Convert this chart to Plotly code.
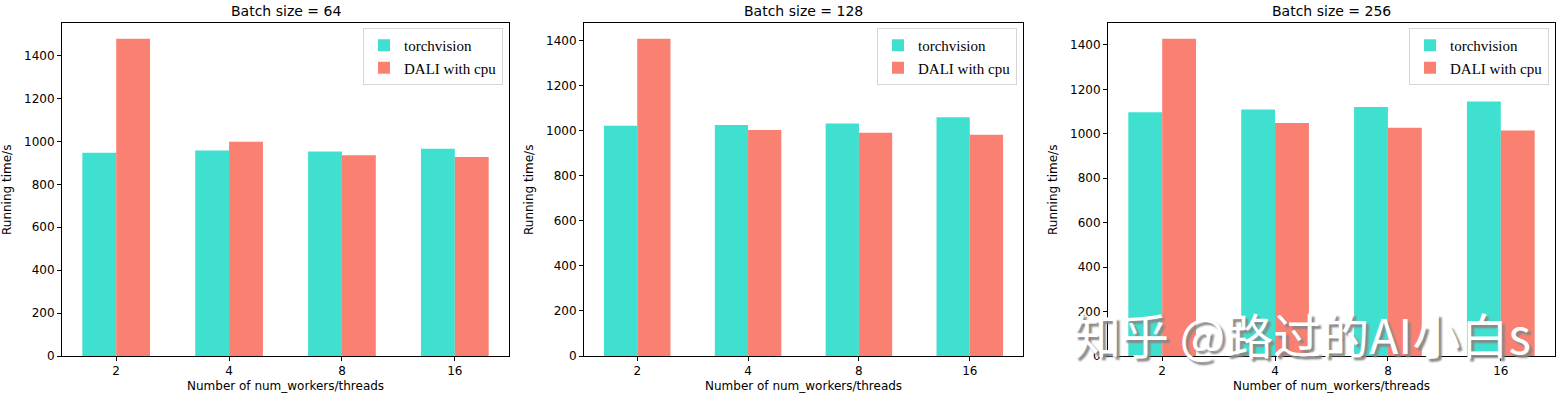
import plotly.graph_objects as go

categories = ["2", "4", "8", "16"]
batch_titles = ["Batch size = 64", "Batch size = 128", "Batch size = 256"]
torchvision = [
    [947, 958, 953, 966],
    [1021, 1025, 1032, 1059],
    [1097, 1109, 1120, 1145],
]
dali_cpu = [
    [1478, 999, 936, 927],
    [1407, 1003, 990, 982],
    [1427, 1048, 1027, 1015],
]
y_ticks = [0, 200, 400, 600, 800, 1000, 1200, 1400]

W, H = 1561, 399
def fx(px):
    return px / W
def fy(py):
    return 1 - py / H

xdom_px = [(62, 509), (584, 1023), (1108, 1555)]
top_px, bot_px = 23, 356
ydom = [fy(bot_px), fy(top_px)]

fig = go.Figure()
layout = dict(
    width=W, height=H, margin=dict(l=0, r=0, t=0, b=0, autoexpand=False),
    paper_bgcolor="white", plot_bgcolor="white",
    barmode="group", bargap=0.4, bargroupgap=0,
    font=dict(family="DejaVu Sans", size=12, color="black"),
    annotations=[],
)

for i in range(3):
    sfx = "" if i == 0 else str(i + 1)
    xa, ya = "x" + sfx, "y" + sfx
    leg = "legend" + sfx
    fig.add_trace(go.Bar(x=categories, y=torchvision[i], name="torchvision",
                         marker=dict(color="#40E0D0", line=dict(width=0)),
                         xaxis=xa, yaxis=ya, legend=leg))
    fig.add_trace(go.Bar(x=categories, y=dali_cpu[i], name="DALI with cpu",
                         marker=dict(color="#FA8072", line=dict(width=0)),
                         xaxis=xa, yaxis=ya, legend=leg))
    x0, x1 = xdom_px[i]
    ymax = max(max(torchvision[i]), max(dali_cpu[i])) * 1.05
    axis_common = dict(showline=True, linecolor="black", linewidth=1, mirror=True,
                       ticks="outside", ticklen=4, tickcolor="black",
                       showgrid=False, zeroline=False, automargin=False,
                       tickfont=dict(family="DejaVu Sans", size=12, color="black"))
    layout["xaxis" + sfx] = dict(domain=[fx(x0), fx(x1)], anchor=ya,
                                 range=[-0.48, 3.48], type="category",
                                 **axis_common)
    layout["yaxis" + sfx] = dict(domain=ydom, anchor=xa, range=[0, ymax],
                                 tickvals=y_ticks, **axis_common)
    layout[leg] = dict(x=fx(x1 - 6), y=fy(28), xanchor="right", yanchor="top",
                       bgcolor="rgba(255,255,255,0.8)", bordercolor="#d6d6d6",
                       borderwidth=1,
                       font=dict(family="Liberation Serif", size=15, color="black"),
                       tracegroupgap=0, itemwidth=30)
    layout["annotations"].append(dict(
        text=batch_titles[i], x=fx((x0 + x1) / 2), y=fy(11),
        xref="paper", yref="paper", showarrow=False,
        xanchor="center", yanchor="middle",
        font=dict(family="DejaVu Sans", size=14, color="black")))
    layout["annotations"].append(dict(
        text="Number of num_workers/threads", x=fx((x0 + x1) / 2), y=fy(386),
        xref="paper", yref="paper", showarrow=False,
        xanchor="center", yanchor="middle",
        font=dict(family="DejaVu Sans", size=12, color="black")))
    layout["annotations"].append(dict(
        text="Running time/s", x=fx(x0 - 55), y=fy(190),
        xref="paper", yref="paper", showarrow=False, textangle=-90,
        xanchor="center", yanchor="middle",
        font=dict(family="DejaVu Sans", size=12, color="black")))

layout["annotations"].append(dict(
    text="知乎 @路过的AI小白s", x=fx(1302), y=fy(333),
    xref="paper", yref="paper", showarrow=False,
    xanchor="center", yanchor="middle",
    font=dict(family="Noto Sans CJK SC", size=48, color="white",
              shadow="3px 3px 2px #888888")))

fig.update_layout(**layout)
fig.write_html("out.html", config={"displayModeBar": False},
               post_script="document.body.style.margin='0';")
